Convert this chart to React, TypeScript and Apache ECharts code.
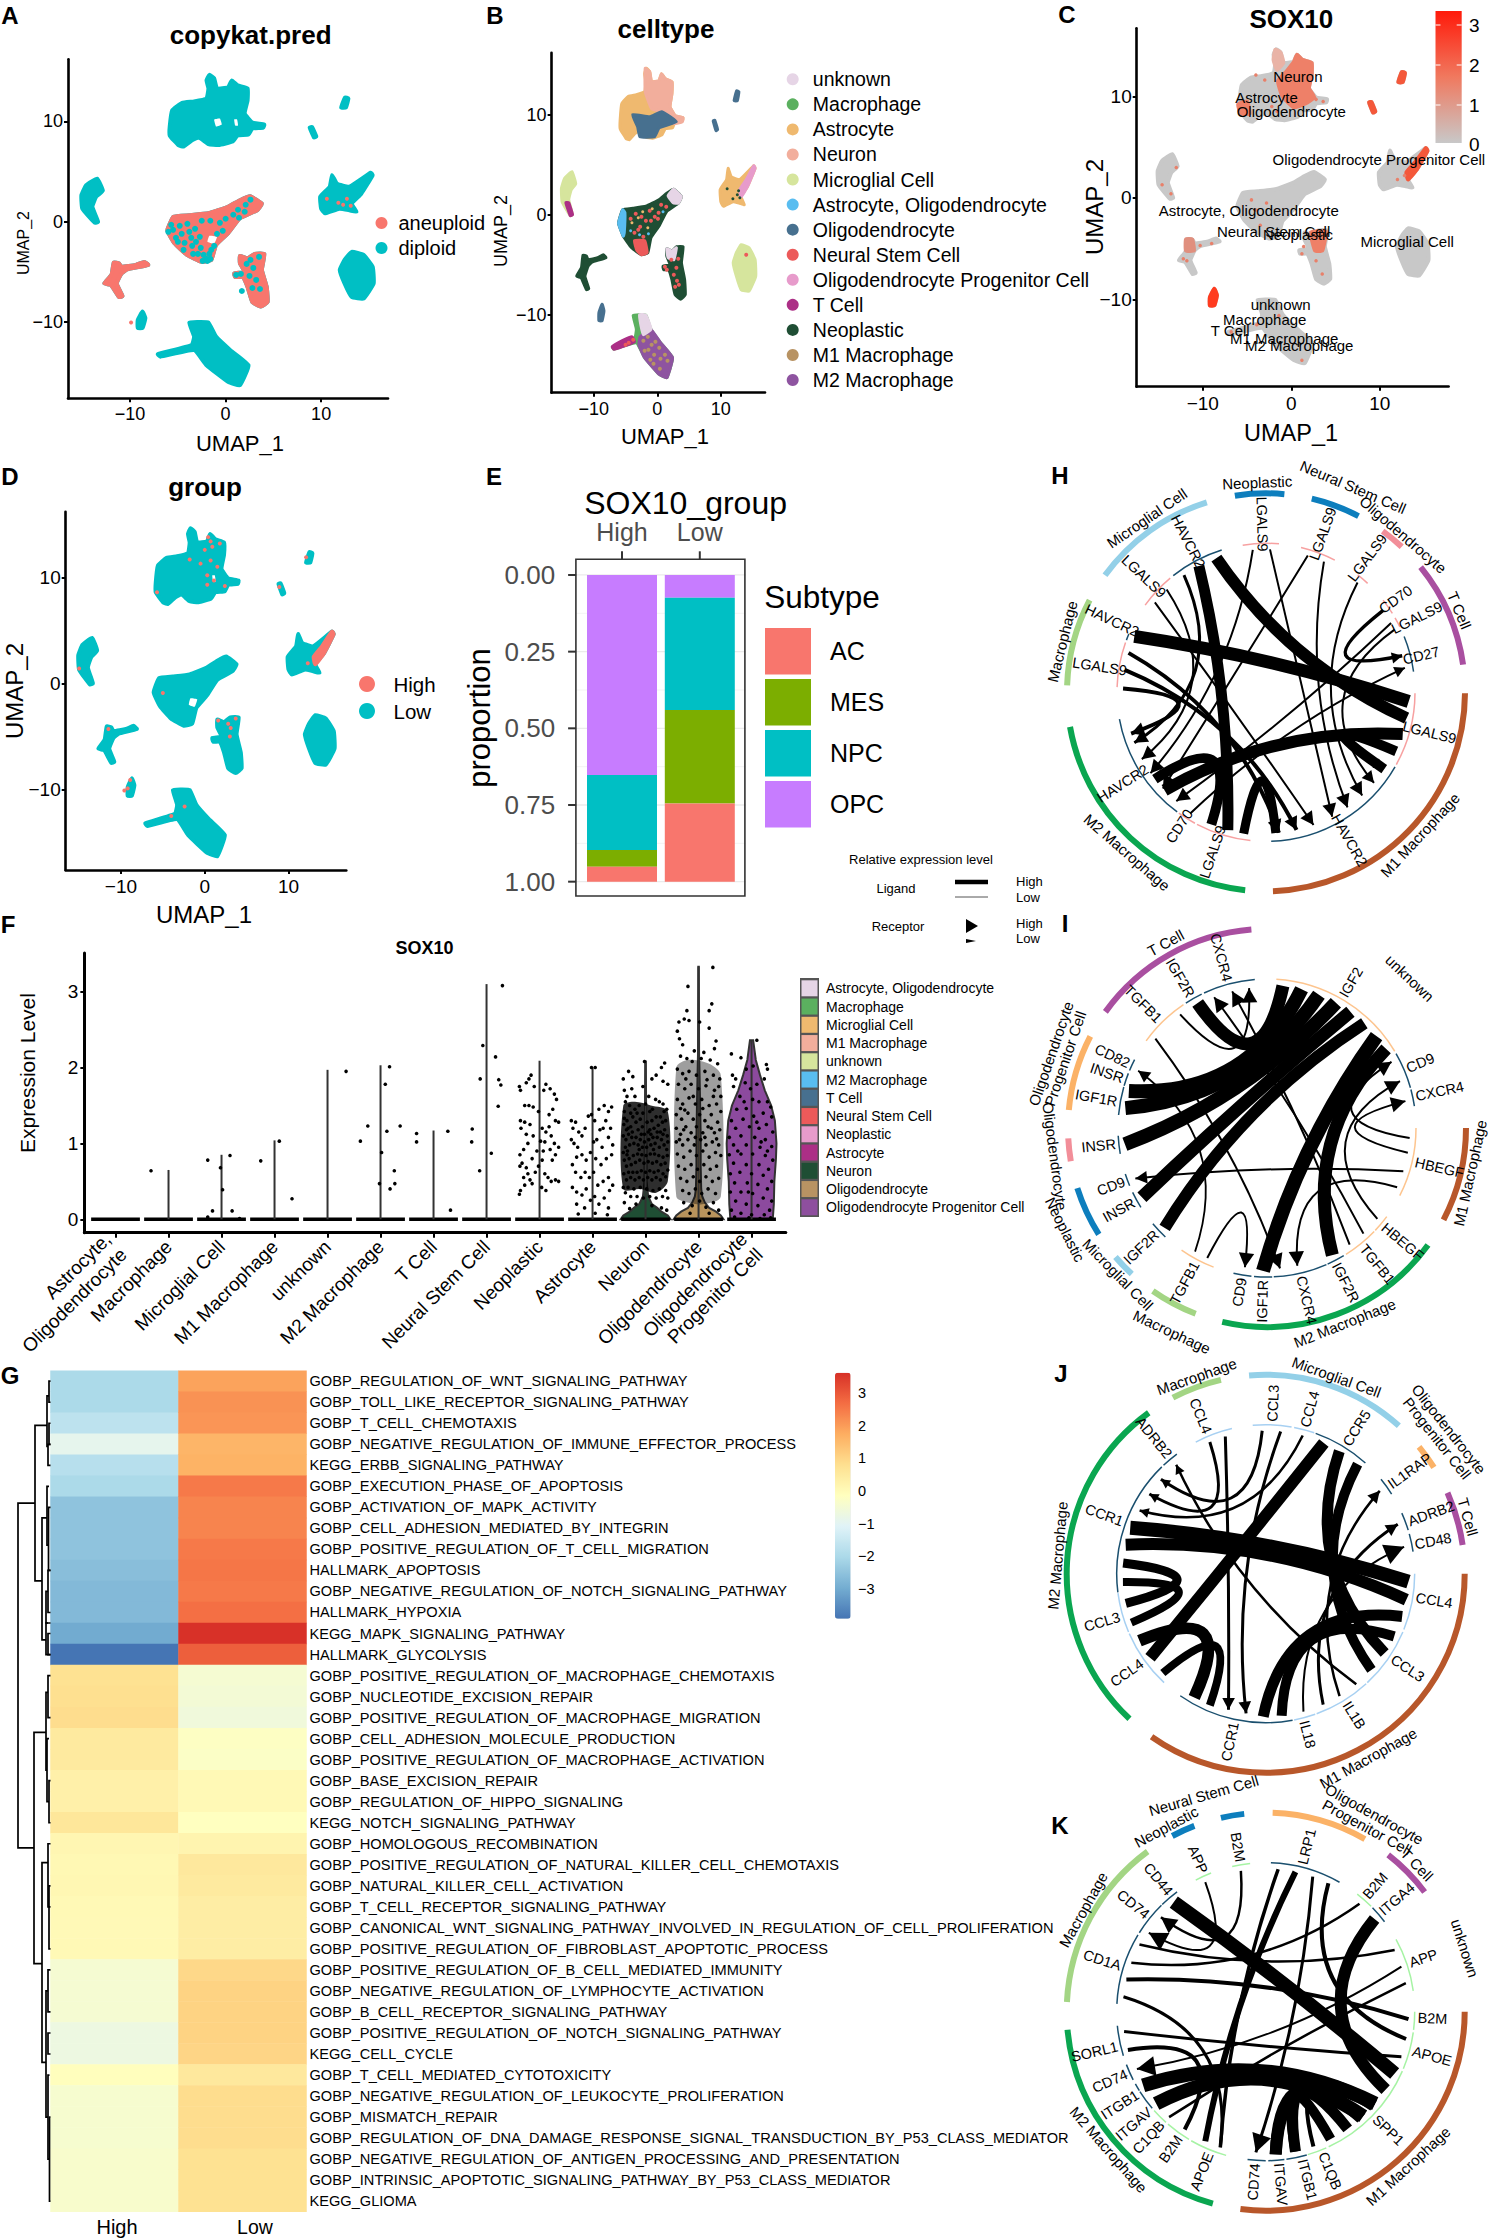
import React, { useEffect, useRef } from "react";
import * as echarts from "echarts";

const FONT = "Liberation Sans";

// ---------- UMAP cluster outlines (UMAP_1, UMAP_2) ----------
const topCluster = [[-1.7,14.65],[-1.2,14.3],[-0.9,13.3],[0.25,13.4],[0.65,14.1],[1.25,13.6],[2.3,13.3],[2.3,12.1],[2,10.8],[2.8,9.9],[4.05,9.7],[3.95,9.4],[2.8,9.3],[2.4,8.7],[1.25,8.6],[0.75,8],[-0.75,7.65],[-1.8,7.75],[-2.8,8.4],[-3.55,8.1],[-4.4,7.5],[-4.9,7.6],[-5.85,8.6],[-5.85,9.5],[-5.6,11.1],[-4.55,11.85],[-3.3,12],[-2,12.3],[-1.8,13.3],[-2,14.1]];
const leftCluster = [[-13.45,4.3],[-12.85,3.1],[-13.55,2.5],[-13.95,1.5],[-13.35,0],[-13.7,-0.1],[-15,1.3],[-15.1,2.65],[-14.6,3.65]];
const centerCluster = [[2.55,2.55],[3.8,1.8],[3.3,1.15],[1.5,0.35],[0.25,-1.15],[-1,-2.3],[-1.5,-3.8],[-2.5,-4],[-4.05,-3.3],[-5.35,-2.15],[-6.1,-0.85],[-5.45,0.5],[-3.8,0.65],[-1.8,0.85],[0.25,1.5],[1.5,2.15]];
const lowerLeftCluster = [[-8.5,-4],[-8.1,-4.3],[-10.3,-4.75],[-10.9,-5.15],[-11.4,-6.15],[-10.8,-7.4],[-11.15,-7.5],[-12,-6.3],[-12.7,-6.15],[-11.95,-5.3],[-11.7,-4.05],[-11.15,-4.15],[-10.9,-4.5],[-9.4,-4.3]];
const centerLowerCluster = [[1.5,-3.4],[2.3,-3.65],[3.05,-3.2],[4.05,-3.2],[3.8,-4.8],[4.3,-6.5],[4.4,-8],[3.7,-8.45],[2.8,-8],[2.3,-6.5],[1.8,-5.5],[1,-5.5],[0.9,-5.15],[2,-5],[1.5,-4.15]];
const rightOval = [[13.2,-3],[14.45,-3.3],[15.4,-4.5],[15.5,-6.15],[14.45,-7.65],[13.2,-7.5],[12.45,-6.15],[11.95,-4.8],[12.45,-3.8]];
const upperRightCluster = [[11.15,4.65],[11.65,3.8],[12.95,3.5],[15.2,4.9],[15.4,4.65],[14.2,2.8],[13.2,1.8],[13.7,1],[12.95,1.15],[11.9,1.3],[10.4,0.85],[10,1.3],[9.9,2.5],[10.9,3.5]];
const smallBottomCluster = [[-8.7,-8.95],[-8.4,-9.6],[-8.7,-10.6],[-9.2,-10.6],[-9.2,-9.8]];
const bottomCluster = [[-3.8,-10.05],[-2.8,-10],[-1.8,-10.05],[-1,-11.45],[0.5,-12.8],[2.4,-14.3],[1.5,-16.3],[0.25,-15.95],[-2,-14.3],[-3.3,-12.8],[-6.85,-13.45],[-7.1,-13.2],[-3.55,-12.3],[-3.3,-11.45]];
const smallTopA = [[12.1,11.4],[12.5,12.4],[12.85,12.3],[12.6,11.4]];
const smallTopB = [[8.8,9.4],[9.05,9.45],[9.5,8.5],[9.25,8.4]];
const allClusters = [topCluster,leftCluster,centerCluster,lowerLeftCluster,centerLowerCluster,rightOval,upperRightCluster,smallBottomCluster,bottomCluster,smallTopA,smallTopB];
const holeA = [[-1.7,-1.4],[-0.9,-1.5],[-1.2,-2.2],[-1.9,-2]];
const holeB = [[-1.2,10.2],[-0.6,10.3],[-0.4,9.7],[-1,9.5]];
const holeC = [[0.9,10.2],[1.2,10.2],[1.3,9.6],[1,9.6]];

// panel B patches
const neuronPatch = [[-1.9,14.65],[-1.2,14.3],[-0.9,13.3],[0.25,13.4],[0.65,14.1],[1.25,13.6],[2.3,13.3],[2.3,12.1],[2,10.8],[2.8,9.9],[4.05,9.7],[3.95,9.3],[2.6,9.1],[1.5,9.6],[0.7,10.3],[-0.9,10.6],[-1.9,12.3]];
const oligoPatch = [[-3.9,10],[-1.2,9.8],[0.7,10.3],[3,9.3],[0.3,8.7],[-0.45,7.8],[-2.75,7.8],[-3.1,8.8]];
const astroOligoPatch = [[-6.1,-0.85],[-5.45,0.5],[-5.1,0.2],[-5.2,-1.8],[-5.35,-2.15]];
const nscTip = [[-3.6,-2.6],[-2,-2.6],[-1.6,-3.8],[-2.5,-4],[-3.2,-3.6]];
const unknownTip = [[2.55,2.55],[3.8,1.8],[3.3,1.15],[2.5,1.2],[1.7,1.9]];
const unknownCL = [[1.5,-3.4],[2.3,-3.65],[3,-3.3],[2.6,-4.5],[1.7,-4.3]];
const opcTail = [[15.2,4.9],[15.4,4.65],[14.2,2.8],[13.2,1.8],[13,2.5],[14,3.5]];
const tCellLeft = [[-13.95,1.2],[-13.35,0],[-13.7,-0.1],[-14.4,1.2]];
const m2Patch = [[-2.7,-12.2],[-1,-11.5],[0.5,-12.8],[2.4,-14.3],[1.5,-16.3],[0.25,-15.95],[-2,-14.3],[-2.9,-13]];
const unknownBottom = [[-2.8,-10],[-1.8,-10.05],[-1,-11.45],[-2.2,-12],[-2.6,-11]];
const tCellTail = [[-6.85,-13.45],[-7.1,-13.2],[-5.5,-12.6],[-4,-12.2],[-3.6,-12.7],[-5.5,-13.2]];

// panel C patches
const cNeuron = [[0.3,13.4],[0.65,14.1],[1.25,13.6],[2.3,13.3],[2.3,12.1],[2,10.8],[2.6,9.9],[1.6,9.3],[0.3,8.9],[-1,10],[-1.5,11.5],[-0.5,12.5]];
const cPale = [[-1.8,14.6],[-1.2,14.3],[-0.9,13.3],[-1.6,12.6],[-2,13.6]];
const cLeftSpot = [[-6,9.2],[-5,9.5],[-4.7,8.3],[-5.7,8.3]];
const cCenterLower = [[2.2,-3.4],[3.9,-3.3],[3.5,-5.2],[2.7,-5.2]];
const cLowerLeft = [[-11.9,-4.1],[-11.2,-4.1],[-11,-5.2],[-11.9,-5.2]];
const dTail = [[15.2,4.9],[15.4,4.65],[14.2,2.8],[13.2,1.8],[13,2.5],[14,3.5]];

const CYAN = "#00BFC4", SALMON = "#F8766D", GREY = "#C8C8C8", CSALMON = "#EE8068";
const cellColors: Record<string,string> = { unknown:"#E6D5E6", Macrophage:"#5BB05F", Astrocyte:"#EFB96F", Neuron:"#F2AE9C", Microglial:"#D6E59D", AstroOligo:"#59BDF0", Oligo:"#47708F", NSC:"#EC5A5A", OPC:"#E79BCB", TCell:"#AC2F86", Neoplastic:"#1F4E34", M1:"#B89363", M2:"#8E54A0" };

const aPatches: any[] = [...allClusters.map(c => [c, CYAN]), [centerCluster, SALMON], [lowerLeftCluster, SALMON], [centerLowerCluster, SALMON], [holeA, "#fff"], [holeB, "#fff"], [holeC, "#fff"]];
const bPatches: any[] = [
  [topCluster, cellColors.Astrocyte],[neuronPatch, cellColors.Neuron],[oligoPatch, cellColors.Oligo],[smallTopA, cellColors.Oligo],[smallTopB, cellColors.Oligo],
  [leftCluster, cellColors.Microglial],[tCellLeft, cellColors.TCell],[centerCluster, cellColors.Neoplastic],[astroOligoPatch, cellColors.AstroOligo],[nscTip, cellColors.NSC],[unknownTip, cellColors.unknown],
  [lowerLeftCluster, cellColors.Neoplastic],[centerLowerCluster, cellColors.Neoplastic],[unknownCL, cellColors.unknown],[rightOval, cellColors.Microglial],[upperRightCluster, cellColors.Astrocyte],[opcTail, cellColors.OPC],[smallBottomCluster, cellColors.Oligo],
  [bottomCluster, cellColors.Macrophage],[m2Patch, cellColors.M2],[unknownBottom, cellColors.unknown],[tCellTail, cellColors.TCell],
];
const cPatches: any[] = [...allClusters.map(c => [c, GREY]), [cNeuron, CSALMON],[cPale, "#E9B3A6"],[cLeftSpot, CSALMON],[cCenterLower, CSALMON],[cLowerLeft, "#E08F7E"],[dTail, "#F4583A"],[smallTopA, "#F4583A"],[smallTopB, "#F4583A"],[smallBottomCluster, "#FF3B1F"]];
const dPatches: any[] = [...allClusters.map(c => [c, CYAN]), [dTail, SALMON],[holeA, "#fff"],[holeC, "#fff"]];

// specks
const aCyanSpecks = [[-5.5,-0.8],[-5.2,-1.6],[-4.8,-0.4],[-4.6,-1.2],[-4.3,-2.1],[-4,-0.2],[-3.8,-1],[-3.6,-1.6],[-3.5,-2.4],[-3.2,-0.7],[-3.1,-2],[-2.9,-3.2],[-2.7,-1.5],[-2.6,-2.6],[-2.3,-3.3],[-2,-3.7],[-1.7,-3.2],[-1.5,-2.8],[-1.2,-2.4],[-1.9,-3.9],[-2.5,0.1],[-1.6,0.1],[-0.6,-0.1],[0,0.3],[0.8,0.7],[1.3,1.2],[2.1,1.7],[2.6,2.2],[2,1],[1.4,0.4],[-0.3,-0.9],[-0.9,-1.2],[2.2,-4.2],[2.9,-4.6],[2.5,-5.4],[3.2,-5.8],[2.8,-6.6],[3.6,-6.7],[1.6,-5.2],[3.5,-3.5],[2.6,-3.8],[1.7,-6.9],[1.1,-5.3],[-6,-1],[-5.7,-0.3],[-5,-2],[-4.4,-2.8],[-3.4,-3.2],[-2.4,-3.9],[-1.6,-3.7]];
const aSalmonSpecks = [[10.6,2.3],[11.8,1.9],[12.7,2.3],[12.3,1.7],[13.1,1.6],[-9.9,-10.05]];
const bRedSpecks = [[-4.2,-0.4],[-3.4,0.1],[-2.7,-1.2],[-1.8,-0.6],[-1.2,0.4],[-0.4,-0.2],[0.6,1],[1.4,0.8],[-3.6,-1.8],[-2.2,-2.2],[0.2,0.2],[2.2,-4.5],[2.6,-6],[3,-5.3],[3.4,-7],[2.8,-7.2],[1.2,-5.2],[1.5,-5.5],[14,-4],[-5,-13],[-4.5,-12.8],[-3.8,-12.5],[-3,-1.5],[-1,-0.6],[0.1,-0.4],[-2.5,-0.2],[3.3,-4.4],[3.1,-6.6]];
const bGoldSpecks = [[-4,-0.8],[-3,-0.3],[-1.5,-1.3],[-0.8,0.6],[-2.3,0.3]];
const bBlueSpecks = [[-2.8,-2],[-1.4,-1.9],[0.9,0.3],[-4.2,-1.6]];
const bDarkSpecks = [[11,2.6],[12.6,2],[13,1.7],[11.9,1.6],[12.8,2.4]];
const bTanSpecks = [[-2.2,-12.6],[-1.5,-12.2],[-0.9,-13],[-0.3,-12.7],[0.3,-13.3],[-1.4,-13.5],[-0.5,-14],[0.5,-14.4],[1.2,-14],[1.6,-14.6],[-0.6,-14.9],[0.4,-15.4],[-2,-13.6],[-1.1,-14.5]];
const dSalmonSpecks = [[0.4,13.8],[0.7,13.4],[1.8,13.2],[0,12.6],[-1.8,11.7],[-0.5,11.3],[0.7,11.6],[0.3,10.2],[1.1,9.7],[0.3,9.3],[2.4,9.2],[-5.7,8.6],[12.1,11.9],[8.9,9.1],[13.7,2.5],[12.3,1.9],[-15,1.4],[-5,-0.9],[-11.5,-4.3],[1.6,-3.5],[2.8,-3.8],[3.7,-3.3],[3.1,-4.2],[3,-5],[-9.2,-9.9],[-9.6,-10.1],[-8.9,-9.1],[-2.4,-11.6],[-4,-12.5],[0.9,12.9],[1.5,11]];
const cSalmonSpecks = [[-4,12.1],[-3,11.6],[-2.2,9],[-1.6,8.5],[2.8,9.7],[3.6,9.5],[-13,3],[-14.6,1.3],[-13.6,0.4],[-4.5,-0.2],[-4,-1.2],[-3.5,-2.7],[-2.8,-0.5],[1.4,-4.8],[1.2,-5.5],[2.8,-6.2],[3.5,-7.5],[-11.8,-6.2],[-12.2,-6],[-10.3,-4.7],[-9,-4.5],[12,1.8],[12.8,2.2],[-3.9,-12.5],[-6.8,-13.2],[1.2,-16],[-1.4,-11.6]];

const cLabels = [["Neuron",0.75,12],["Astrocyte",-2.8,9.9],["Oligodendrocyte",0,8.55],["Oligodendrocyte Progenitor Cell",9.9,3.8],["Astrocyte, Oligodendrocyte",-4.8,-1.2],["Neural Stem Cell",-2,-3.3],["Neoplastic",0.75,-3.6],["Microglial Cell",13.1,-4.3],["unknown",-1.2,-10.5],["Macrophage",-3,-11.95],["T Cell",-6.9,-13.05],["M1 Macrophage",-0.8,-13.9],["M2 Macrophage",0.9,-14.5]];
const bLegendNames = ["unknown","Macrophage","Astrocyte","Neuron","Microglial Cell","Astrocyte, Oligodendrocyte","Oligodendrocyte","Neural Stem Cell","Oligodendrocyte Progenitor Cell","T Cell","Neoplastic","M1 Macrophage","M2 Macrophage"];
const bLegendColors = [cellColors.unknown,cellColors.Macrophage,cellColors.Astrocyte,cellColors.Neuron,cellColors.Microglial,cellColors.AstroOligo,cellColors.Oligo,cellColors.NSC,cellColors.OPC,cellColors.TCell,cellColors.Neoplastic,cellColors.M1,cellColors.M2];

// ---------- Panel E ----------
const eGroups = ["High","Low"];
const eOPC = [0.652,0.074];
const eNPC = [0.245,0.366];
const eMES = [0.054,0.305];
const eAC = [0.049,0.255];
const eTicks = [0,0.25,0.5,0.75,1];
const eMinor = [0.125,0.375,0.625,0.875];

// ---------- Panel F ----------
const fCategories = ["Astrocyte,\nOligodendrocyte","Macrophage","Microglial Cell","M1 Macrophage","unknown","M2 Macrophage","T Cell","Neural Stem Cell","Neoplastic","Astrocyte","Neuron","Oligodendrocyte","Oligodendrocyte\nProgenitor Cell"];
const fMax = [0,0.65,0.85,1.04,1.97,2.03,1.17,3.1,2.09,2.0,2.08,3.33,2.36];
const fLegendNames = ["Astrocyte, Oligodendrocyte","Macrophage","Microglial Cell","M1 Macrophage","unknown","M2 Macrophage","T Cell","Neural Stem Cell","Neoplastic","Astrocyte","Neuron","Oligodendrocyte","Oligodendrocyte Progenitor Cell"];
const fLegendColors = ["#E6D5E6","#5BB05F","#EFB96F","#F2AE9C","#D6E59D","#59BDF0","#47708F","#EC5A5A","#E79BCB","#AC2F86","#1F4E34","#B89363","#8E4F9E"];
const neuronViolin = [[0,0.47],[0.05,0.42],[0.1,0.3],[0.15,0.22],[0.2,0.12],[0.3,0.05],[0.5,0.02],[2.08,0.005]];
const oligoViolin = [[0,0.47],[0.05,0.42],[0.1,0.33],[0.15,0.2],[0.22,0.12],[0.3,0.07],[0.4,0.05],[0.7,0.04],[1.1,0.04],[1.5,0.03],[2.2,0.01],[3.33,0.005]];
const opcViolin = [[0,0.4],[0.2,0.42],[0.5,0.43],[0.8,0.46],[1,0.47],[1.3,0.44],[1.5,0.37],[1.7,0.25],[1.9,0.16],[2.1,0.08],[2.36,0.03]];
const neuronDensity = [[-0.42,0.4],[-0.42,1.5],[-0.2,1.55],[0.1,1.5],[0.42,1.42],[0.42,0.5],[0.2,0.35],[-0.1,0.4]];
const oligoDensity = [[-0.42,0.3],[-0.42,2.0],[-0.2,2.1],[0.2,2.05],[0.42,1.9],[0.42,0.3],[0.1,0.2],[-0.2,0.22]];
const smallPoints = [[2,-0.33,0.64],[3,-0.26,0.78],[3,-0.02,0.68],[3,0.16,0.84],[3,0.02,0.39],[3,-0.17,0.11],[3,0.2,0.11],[3,-0.26,0.03],[3,0.34,0.01],[4,-0.26,0.77],[4,0.09,1.03],[4,0.33,0.27],[5,0.35,1.95],[6,0.17,2.01],[6,0.09,1.78],[6,-0.24,1.23],[6,0.37,1.23],[6,0.12,1.16],[6,-0.38,1.03],[6,0.02,0.88],[6,0.26,0.64],[6,0.27,0.47],[6,-0.02,0.47],[6,0.18,0.4],[7,-0.32,1.13],[7,-0.32,1.02],[7,0.27,1.16],[7,0.32,0.12],[8,0.3,3.08],[8,-0.07,2.29],[8,0.17,2.14],[8,-0.12,1.85],[8,0.23,1.84],[8,0.27,1.77],[8,0.22,1.49],[8,-0.27,1.19],[8,-0.28,1.02],[8,0.09,0.87],[8,-0.13,0.64]];
const neoplasticPts = [[-0.38,0.33],[-0.36,0.38],[-0.28,0.45],[-0.3,0.55],[-0.37,0.7],[-0.33,0.74],[-0.25,0.68],[-0.22,0.6],[-0.18,0.52],[-0.14,0.47],[-0.08,0.62],[-0.02,0.7],[0.05,0.78],[0.1,0.6],[0.16,0.55],[0.22,0.5],[0.3,0.52],[0.36,0.5],[0.12,0.38],[0.04,0.42],[-0.37,0.85],[-0.3,0.92],[-0.22,1],[-0.12,1.1],[-0.35,1.2],[-0.36,1.3],[-0.28,1.28],[-0.18,1.25],[-0.12,1.48],[-0.2,1.5],[-0.28,1.5],[-0.36,1.7],[-0.38,1.75],[-0.25,1.8],[-0.16,1.9],[-0.2,1.85],[-0.1,1.75],[-0.02,1.42],[0.05,1.2],[0.02,1.03],[0.1,1.02],[0.12,1.15],[0.18,1.22],[0.22,1.1],[0.28,1],[0.36,0.95],[0.3,0.85],[0.24,0.78],[0.2,0.92],[0.08,1.7],[0.12,1.78],[0.2,1.72],[0.28,1.65],[0.32,1.58],[0.25,1.45],[0.3,1.3],[0.36,1.28],[0.18,1.38],[-0.05,0.9],[-0.14,0.8],[-0.25,1.12],[0.07,0.9]];
const astrocytePts = [[-0.4,1.3],[-0.37,1.2],[-0.32,1.28],[-0.26,1.15],[-0.4,1.05],[-0.35,1],[-0.28,0.95],[-0.2,1.1],[-0.14,1.2],[-0.08,1.36],[-0.02,1.38],[0.04,1.3],[0.12,1.45],[0.22,1.5],[0.3,1.42],[0.36,1.48],[0.25,1.3],[0.14,1.18],[0.08,1.05],[0.02,1.02],[0.18,0.95],[0.3,1.08],[0.38,0.98],[0.36,0.85],[0.26,0.8],[0.16,0.72],[0.06,0.8],[-0.04,0.88],[-0.12,0.78],[-0.2,0.85],[-0.3,0.82],[-0.38,0.72],[-0.32,0.62],[-0.22,0.55],[-0.14,0.62],[-0.06,0.55],[0.02,0.62],[0.1,0.45],[0.2,0.5],[0.3,0.55],[0.38,0.45],[0.32,0.38],[0.22,0.28],[0.12,0.2],[0.04,0.3],[-0.04,0.25],[-0.12,0.4],[-0.2,0.32],[-0.3,0.36],[-0.38,0.42],[-0.3,0.2],[-0.15,0.15],[-0.27,0.07],[0.05,0.08],[0.28,0.06],[0.3,0.15],[-0.02,2],[0.05,2],[0.2,1.2],[0.34,1.2]];
const neuronPts = [[-0.42,1.85],[-0.38,1.55],[-0.4,1.42],[-0.35,1.3],[-0.41,1.25],[-0.36,1.18],[-0.42,1.1],[-0.37,1.05],[-0.32,1.12],[-0.28,1.22],[-0.24,1.35],[-0.2,1.45],[-0.18,1.28],[-0.14,1.18],[-0.1,1.32],[-0.06,1.22],[-0.02,1.12],[0.03,1.28],[0.08,1.18],[0.12,1.3],[0.16,1.2],[0.2,1.35],[0.24,1.24],[0.28,1.15],[0.32,1.28],[0.36,1.18],[0.41,1.1],[0.38,1.3],[0.42,1.02],[0.35,0.98],[0.3,1.05],[0.26,0.95],[0.22,1.08],[0.18,1],[0.14,1.08],[0.1,0.98],[0.06,1.05],[0.02,0.95],[-0.02,1.02],[-0.06,0.95],[-0.1,1.05],[-0.14,0.98],[-0.18,1.08],[-0.22,1],[-0.26,1.08],[-0.3,0.98],[-0.34,0.9],[-0.38,0.95],[-0.42,0.88],[-0.4,0.78],[-0.36,0.7],[-0.31,0.8],[-0.27,0.72],[-0.23,0.84],[-0.19,0.75],[-0.15,0.86],[-0.11,0.78],[-0.07,0.85],[-0.03,0.74],[0.01,0.84],[0.05,0.76],[0.09,0.86],[0.13,0.74],[0.17,0.86],[0.21,0.76],[0.25,0.84],[0.29,0.72],[0.33,0.82],[0.37,0.74],[0.41,0.84],[0.42,0.65],[0.38,0.56],[0.33,0.6],[0.28,0.52],[0.24,0.64],[0.2,0.55],[0.16,0.62],[0.12,0.52],[0.08,0.64],[0.04,0.55],[0,0.62],[-0.04,0.52],[-0.08,0.64],[-0.12,0.55],[-0.16,0.62],[-0.2,0.52],[-0.24,0.62],[-0.28,0.55],[-0.32,0.62],[-0.36,0.52],[-0.41,0.6],[-0.42,0.42],[-0.38,0.35],[-0.33,0.42],[-0.28,0.3],[-0.22,0.4],[-0.16,0.3],[-0.1,0.42],[-0.04,0.28],[0.02,0.4],[0.08,0.3],[0.14,0.38],[0.2,0.28],[0.26,0.4],[0.32,0.3],[0.38,0.38],[0.42,0.28],[-0.4,0.22],[-0.3,0.14],[-0.18,0.2],[0.12,0.18],[0.3,0.15],[0.4,0.12],[-0.35,1.62],[-0.3,1.5],[-0.26,1.72],[-0.2,1.62],[-0.12,1.5],[-0.05,1.75],[0,1.52],[0.06,1.62],[0.13,1.45],[0.19,1.58],[0.26,1.55],[0.33,1.52],[0.4,1.45],[0.12,1.85],[0.2,1.9],[0.3,2],[0.36,2.06],[0.33,1.82],[-0.02,2.08],[-0.4,1.7],[-0.32,1.95],[-0.24,1.88],[0.42,1.78],[-0.35,0.85],[0.05,1.15],[-0.12,0.92],[0.15,0.92],[0.28,1.35],[-0.28,1.4],[-0.05,1.4],[0.08,1.42],[0.4,0.92],[-0.4,1.33],[0.35,1.42],[-0.16,1.4],[-0.25,1.15],[0.22,1.15],[0.1,1.12],[-0.08,1.12],[-0.33,1.2],[0.33,1.12]];
const oligoPts = [[-0.2,3.07],[0.27,3.32],[0.25,2.84],[0.2,2.75],[-0.22,2.75],[-0.37,2.6],[-0.27,2.64],[-0.18,2.62],[0.02,2.6],[0.2,2.52],[-0.4,2.48],[-0.36,2.38],[-0.3,2.3],[0.33,2.35],[0.3,2.25],[0.1,2.2],[-0.08,2.22],[-0.34,2.15],[-0.22,2.12],[-0.12,2.08],[0.05,2.12],[0.22,2.1],[0.36,2.05],[-0.4,1.98],[-0.3,1.92],[-0.18,1.95],[-0.04,1.9],[0.12,1.95],[0.28,1.9],[0.4,1.85],[-0.38,1.78],[-0.26,1.72],[-0.14,1.78],[0,1.72],[0.14,1.76],[0.3,1.7],[0.42,1.62],[-0.4,1.58],[-0.3,1.52],[-0.18,1.6],[-0.06,1.52],[0.06,1.58],[0.2,1.5],[0.34,1.52],[0.42,1.42],[-0.42,1.38],[-0.32,1.32],[-0.2,1.4],[-0.1,1.32],[0.02,1.38],[0.12,1.3],[0.24,1.38],[0.36,1.28],[-0.42,1.2],[-0.34,1.12],[-0.24,1.22],[-0.14,1.14],[-0.04,1.22],[0.08,1.14],[0.18,1.22],[0.3,1.14],[0.4,1.18],[-0.42,1.02],[-0.3,0.98],[-0.2,1.05],[-0.08,0.98],[0.04,1.05],[0.14,0.98],[0.26,1.02],[0.38,0.98],[-0.4,0.86],[-0.28,0.82],[-0.16,0.9],[-0.04,0.84],[0.08,0.9],[0.2,0.82],[0.32,0.88],[0.42,0.84],[-0.38,0.7],[-0.26,0.66],[-0.14,0.72],[-0.02,0.66],[0.1,0.72],[0.22,0.66],[0.34,0.7],[-0.34,0.54],[-0.22,0.5],[-0.1,0.56],[0.02,0.5],[0.14,0.56],[0.26,0.5],[0.38,0.54],[-0.3,0.38],[-0.18,0.34],[-0.06,0.4],[0.06,0.34],[0.18,0.4],[0.32,0.34],[-0.28,0.22],[-0.12,0.18],[0.02,0.24],[0.14,0.16],[0.28,0.22],[-0.16,0.08],[0.2,0.08],[0.38,0.12],[-0.34,1.46],[0.28,1.62],[-0.24,1.85],[0.16,1.84],[0.38,1.75],[-0.1,1.62],[0.08,1.46],[-0.26,1.44],[-0.36,1.05],[0.24,1.2],[-0.06,1.08],[0.12,1.08],[-0.28,1.18],[0.34,1.06]];
const opcPts = [[-0.38,2.18],[-0.2,2.13],[0.1,2.36],[0.28,2.04],[0.3,1.98],[-0.36,1.9],[-0.3,1.85],[-0.1,1.98],[0.03,2.02],[0.24,1.85],[-0.34,1.75],[-0.12,1.8],[-0.02,1.72],[0.1,1.78],[0.3,1.55],[0.36,1.48],[-0.22,1.62],[0.02,1.58],[0.14,1.55],[-0.28,1.45],[-0.1,1.46],[0.22,1.4],[0.38,1.35],[-0.38,1.3],[-0.16,1.32],[0.04,1.36],[0.28,1.25],[-0.3,1.2],[-0.04,1.22],[0.14,1.2],[0.4,1.15],[-0.42,1.08],[-0.2,1.1],[0.06,1.08],[0.26,1.05],[-0.34,0.98],[-0.1,0.98],[0.16,0.95],[0.38,0.96],[-0.42,0.85],[-0.2,0.86],[0.02,0.86],[0.26,0.84],[0.4,0.78],[-0.34,0.74],[-0.1,0.72],[0.14,0.72],[0.32,0.66],[-0.4,0.6],[-0.22,0.62],[0,0.6],[0.22,0.58],[0.38,0.5],[-0.32,0.48],[-0.08,0.48],[0.12,0.46],[0.3,0.4],[-0.4,0.36],[-0.2,0.36],[0.02,0.34],[0.22,0.28],[0.38,0.24],[-0.3,0.24],[-0.1,0.2],[0.12,0.18],[0.34,0.12],[-0.38,0.12],[-0.2,0.08],[0,0.06],[0.24,0.06],[-0.32,0.03],[-0.05,0.02],[0.16,0.01],[0.36,0.02],[-0.14,1.55],[0.1,1.28],[-0.06,0.36],[0.18,1.02],[-0.26,0.9],[0.3,0.9]];

// ---------- Panel G ----------
const gColumns = ["High","Low"];
const gPathways = ["GOBP_REGULATION_OF_WNT_SIGNALING_PATHWAY","GOBP_TOLL_LIKE_RECEPTOR_SIGNALING_PATHWAY","GOBP_T_CELL_CHEMOTAXIS","GOBP_NEGATIVE_REGULATION_OF_IMMUNE_EFFECTOR_PROCESS","KEGG_ERBB_SIGNALING_PATHWAY","GOBP_EXECUTION_PHASE_OF_APOPTOSIS","GOBP_ACTIVATION_OF_MAPK_ACTIVITY","GOBP_CELL_ADHESION_MEDIATED_BY_INTEGRIN","GOBP_POSITIVE_REGULATION_OF_T_CELL_MIGRATION","HALLMARK_APOPTOSIS","GOBP_NEGATIVE_REGULATION_OF_NOTCH_SIGNALING_PATHWAY","HALLMARK_HYPOXIA","KEGG_MAPK_SIGNALING_PATHWAY","HALLMARK_GLYCOLYSIS","GOBP_POSITIVE_REGULATION_OF_MACROPHAGE_CHEMOTAXIS","GOBP_NUCLEOTIDE_EXCISION_REPAIR","GOBP_POSITIVE_REGULATION_OF_MACROPHAGE_MIGRATION","GOBP_CELL_ADHESION_MOLECULE_PRODUCTION","GOBP_POSITIVE_REGULATION_OF_MACROPHAGE_ACTIVATION","GOBP_BASE_EXCISION_REPAIR","GOBP_REGULATION_OF_HIPPO_SIGNALING","KEGG_NOTCH_SIGNALING_PATHWAY","GOBP_HOMOLOGOUS_RECOMBINATION","GOBP_POSITIVE_REGULATION_OF_NATURAL_KILLER_CELL_CHEMOTAXIS","GOBP_NATURAL_KILLER_CELL_ACTIVATION","GOBP_T_CELL_RECEPTOR_SIGNALING_PATHWAY","GOBP_CANONICAL_WNT_SIGNALING_PATHWAY_INVOLVED_IN_REGULATION_OF_CELL_PROLIFERATION","GOBP_POSITIVE_REGULATION_OF_FIBROBLAST_APOPTOTIC_PROCESS","GOBP_POSITIVE_REGULATION_OF_B_CELL_MEDIATED_IMMUNITY","GOBP_NEGATIVE_REGULATION_OF_LYMPHOCYTE_ACTIVATION","GOBP_B_CELL_RECEPTOR_SIGNALING_PATHWAY","GOBP_POSITIVE_REGULATION_OF_NOTCH_SIGNALING_PATHWAY","KEGG_CELL_CYCLE","GOBP_T_CELL_MEDIATED_CYTOTOXICITY","GOBP_NEGATIVE_REGULATION_OF_LEUKOCYTE_PROLIFERATION","GOBP_MISMATCH_REPAIR","GOBP_REGULATION_OF_DNA_DAMAGE_RESPONSE_SIGNAL_TRANSDUCTION_BY_P53_CLASS_MEDIATOR","GOBP_NEGATIVE_REGULATION_OF_ANTIGEN_PROCESSING_AND_PRESENTATION","GOBP_INTRINSIC_APOPTOTIC_SIGNALING_PATHWAY_BY_P53_CLASS_MEDIATOR","KEGG_GLIOMA"];
const gHigh = [-2.0,-2.0,-1.7,-0.9,-1.8,-2.0,-2.5,-2.5,-2.5,-2.6,-2.7,-2.7,-3.0,-3.9,0.75,0.8,0.85,0.5,0.5,0.3,0.3,0.6,0.12,0.08,0.1,0.05,0.03,0.05,-0.45,-0.45,-0.45,-0.7,-0.7,-0.1,-0.4,-0.4,-0.4,-0.35,-0.35,-0.35];
const gLow = [1.9,2.15,2.1,1.6,1.65,2.5,2.35,2.35,2.5,2.55,2.5,2.65,3.6,2.9,-0.45,-0.5,-0.6,-0.2,-0.25,0.05,0.05,-0.15,0.18,0.55,0.5,0.4,0.4,0.4,0.95,1.05,1.05,1.05,1.0,0.55,0.85,0.85,0.85,0.75,0.75,0.75];
const gScaleTicks = [3,2,1,0,-1,-2,-3];
const gDendro = [[18,6.3,22.7,35,34],[35,2.6,10,47,42],[47,1.2,3.6,49,48],[49,0.5,1.5,50.5,50.5],[49,2.5,3.5,50.5,50.5],[48,3.5,4.5,50.5,50.5],[42,7,12.8,47,46],[47,5.5,8.3,49,48.5],[48.5,6.5,9.5,50.5,50.5],[46,10.5,12,48,48],[48,9.5,11.5,50.5,50.5],[46,12,13.5,50.5,50.5],[48,12.5,13.5,50.5,50.5],[34,17.2,28.2,46,42],[46,15.3,19,48,47],[48,14.5,16.5,50.5,50.5],[47,17.5,20.5,49,49],[49,19.5,21.5,50.5,50.5],[42,23.4,32.9,48,46],[48,22.5,25.5,50.5,50.5],[49,24.5,27.5,50.5,50.5],[46,29.5,35.5,48,48],[48,28.5,30.5,50.5,50.5],[48,31.5,32.5,50.5,50.5],[48,33.5,37.5,49.5,49.5],[49.5,35.5,39.5,50.5,50.5]];

// ---------- Chord diagrams ----------
const BROWN="#B8572A", GREEN="#0AA650", LGREEN="#A3D584", LBLUE="#93D0E8", BLUE="#0D7EBD", PINK="#F28E99", PURPLE="#A94FA0", ORANGE="#FBB267", TEAL="#1A4F6E";
const HP="#F7A1A1", IO="#FDC58F", JB="#A7D0F2", KG="#A6F3A4";

const hSectors = [[90.3,178,BROWN],[186,260,GREEN],[272,297.6,LGREEN],[306,342.7,LBLUE],[351,365.3,BLUE],[13.3,27.7,BLUE],[35.9,43,PINK],[51,82,PURPLE]];
const hSegments = [[90.4,119,HP],[120,178,TEAL],[186,207.6,HP],[208.5,215.8,HP],[216.6,259.6,TEAL],[272,289.5,HP],[290.5,293,TEAL],[305.8,320,HP],[321.5,342.7,TEAL],[351,365,HP],[13.6,27.5,HP],[38,43,HP],[51.8,58,HP],[60,64,HP],[68,82,TEAL]];
const hGenes: any[] = [["LGALS9",103.8],["HAVCR2",150.6],["LGALS9",198.5],["CD70",212.9],["HAVCR2",237.5],["LGALS9",278.8],["HAVCR2",295],["LGALS9",313.5],["HAVCR2",332.7],["LGALS9",358.7],["LGALS9",19.7],["LGALS9",37],["CD70",54.4],["LGALS9",63.7],["CD27",76.7]];
const hLabels: any[] = [["Microglial Cell",325.6,211],["Neoplastic",357.6,210],["Neural Stem Cell",23,223],["Oligodendrocyte",41,209],["T Cell",67,210],["M1 Macrophage",132.8,210],["M2 Macrophage",221,212],["Macrophage",284,210]];
const hLinks = [[286,174.8,4,10],[279,167.5,4,10],[271.5,253,4,10],[309,160.3,2,10],[316,241.7,2,10],[325,249,3,10],[354.7,235,2,10],[1.6,152,2,10],[17,227,2,10],[23.9,144.7,2,10],[39.8,137,2,10],[64,130,2,9],[55,75,3.5,8],[212,80,2,8],[61,219.5,2,10],[93.7,293,13,0],[100.4,339.7,12,0],[107,226,12,8],[114.4,123,10,8],[189,176,9,9],[202.5,232,10,8],[195.5,332,11,0]];

const iSectors = [[90,117.5,BROWN],[126,193,GREEN],[201,215,LGREEN],[222.8,229.6,LBLUE],[237.7,252.4,BLUE],[260.4,267,PINK],[275.2,297.4,ORANGE],[305.7,355.5,PURPLE]];
const iSegments = [[3.6,59,IO],[60,74.3,TEAL],[75,81.6,TEAL],[90,117,IO],[126.5,133.4,IO],[134,148,IO],[149,156,TEAL],[156.5,177.4,TEAL],[178,185,TEAL],[186,193,TEAL],[201,215,IO],[223,230,TEAL],[237.8,244.4,TEAL],[247.2,252,TEAL],[260,267,TEAL],[275,286,TEAL],[286.5,291.5,TEAL],[292.7,297.3,TEAL],[305.8,325.9,IO],[327,334,TEAL],[335,355.3,TEAL]];
const iGenes: any[] = [["IGF2",30],["CD9",67],["CXCR4",78],["HBEGF",103],["HBEGF",130],["TGFB1",141],["IGF2R",153],["CXCR4",167],["IGF1R",181.5],["CD9",189.5],["TGFB1",208],["IGF2R",226.5],["INSR",241],["CD9",249.5],["INSR",264],["IGF1R",280],["INSR",289],["CD82",295],["TGFB1",315],["IGF2R",330],["CXCR4",345]];
const iLabels: any[] = [["unknown",43.6,207],["T Cell",331.3,211],["Oligodendrocyte\nProgenitor Cell",289,221],["M1 Macrophage",102.5,208],["M2 Macrophage",158.3,210],["Macrophage",205,225],["Microglial Cell",225.5,209],["Neoplastic",243.3,226],["Oligodendrocyte",262.4,214]];
const iLinks = [[94,62,2,11],[100,79,2,11],[107.6,249,2,9],[114.5,167.6,2,11],[129.5,70.6,2,11],[137.6,338,2,11],[144.7,345.7,2,11],[308.7,174.7,2,11],[322.6,352.7,2,11],[210.2,294,1.8,9],[204.7,189,2,11],[6.4,331,13,0],[14,285,14,0],[21.3,278,14,0],[28.8,263.5,14,0],[35.7,241,13,0],[42.9,225.7,12,0],[50,181.6,14,0],[56.4,152.8,13,0]];

const jSectors = [[332.2,347,LGREEN],[355.2,402,LBLUE],[50.4,57.7,ORANGE],[66,81.7,PURPLE],[90,215,BROWN],[223.2,324,GREEN]];
const jSegments = [[332,346.9,JB],[355,370,JB],[11,19,JB],[19.6,42,TEAL],[50.7,57.7,TEAL],[66,73,TEAL],[74.5,81.5,TEAL],[90,112,JB],[113,137,JB],[137.6,160,JB],[160.6,169,JB],[169.6,215,TEAL],[223,246.3,JB],[247,262.5,JB],[262.8,315.8,TEAL],[316.7,323.4,TEAL]];
const jGenes: any[] = [["CCL4",337.6],["CCL3",2.5],["CCL4",15],["CCR5",32],["IL1RAP",54.5],["ADRB2",70],["CD48",79],["CCL4",99],["CCL3",123.7],["IL1B",148],["IL18",165.4],["CCR1",192],["CCL4",234.5],["CCL3",253.6],["CCR1",290],["ADRB2",320.6]];
const jLabels: any[] = [["Macrophage",340.7,209],["Microglial Cell",19.8,209],["Oligodendrocyte\nProgenitor Cell",51.7,226],["T Cell",74.3,210],["M1 Macrophage",150.9,211],["M2 Macrophage",275,209]];
const jLinks = [[337,304.4,3,7],[343.6,195.3,3,9],[358.6,312,3,7],[6,188,3,9],[15,296.6,2.5,7],[140.7,320.6,2.5,7],[148.9,54,2.5,9],[156.3,69.5,3,9],[164.7,79,2,15],[93.2,288.7,14,0],[100.5,281.7,12,0],[107.4,181,11,0],[116,173.6,10,0],[31,123.7,11,0],[40,132.3,10,0],[274.3,258,9,0],[266.7,250,8,0],[24,234,12,0],[210,242,12,0],[203,226,8,0]];

const kSectors = [[272.8,323.6,LGREEN],[332,339,BLUE],[347,353.8,BLUE],[2,29.9,ORANGE],[38,53,PURPLE],[90,187.3,BROWN],[195.4,264.8,GREEN]];
const kSegments = [[332,338.5,KG],[347,354,KG],[2,29.7,TEAL],[37.9,45,KG],[45.8,52.9,TEAL],[61,82,KG],[90,97,KG],[98,112.5,KG],[113.5,155,KG],[156,163.6,KG],[164,172,TEAL],[172.8,179,TEAL],[180,187,TEAL],[195.4,210,KG],[211,221,KG],[222,228.5,KG],[229.6,237.6,TEAL],[238,241,TEAL],[242.8,249.2,TEAL],[252.8,264.6,TEAL],[273,301,TEAL],[302,315.6,TEAL],[316,323.5,TEAL]];
const kGenes: any[] = [["APP",336],["B2M",350.4],["LRP1",14],["B2M",41],["ITGA4",49.3],["APP",71.3],["B2M",92.3],["APOE",105],["SPP1",134],["C1QB",158],["ITGB1",166],["ITGAV",175],["CD74",184],["APOE",201.8],["B2M",214.7],["C1QB",223],["ITGAV",229.6],["ITGB1",237.4],["CD74",246],["SORL1",256.8],["CD1A",287.5],["CD74",309],["CD44",321]];
const kLabels: any[] = [["Macrophage",299.2,209],["Neoplastic",331.7,210],["Neural Stem Cell",344,225],["Oligodendrocyte\nProgenitor Cell",28.8,218],["T Cell",45.8,211],["unknown",72.3,209],["M1 Macrophage",137.3,210],["M2 Macrophage",228.7,209]];
const kLinks = [[5,198.5,3.5,0],[12,205,6,0],[26,101,4,0],[19.2,184,3,14],[41,290,2.5,0],[64.4,298,2.5,0],[71.6,246,2,14],[78.5,222.5,2.5,0],[93,283,4,0],[108.4,262,3,0],[276,198.5,3,0],[254.5,214.5,4,0],[335,304,2,14],[350,312,2.5,12],[115.6,320,14,0],[123,49.6,12,0],[130,239,14,0],[137,230,14,0],[131,176,12,0],[138,176,12,0],[145,168,11,0],[153,168,10,0],[160.5,131,4,0]];

function chordSeries(polarIndex: number, sectors: any[], segments: any[], genes: any[], labels: any[], links: any[], r0: number) {
  const makeArc = (rows: any[], radius: number, lineWidth: number) => ({
    type: "custom", coordinateSystem: "polar", polarIndex, silent: true,
    data: rows.map((r, i) => [radius, r[0] % 360, i]),
    renderItem: (_p: any, api: any) => {
      const r = rows[api.value(2)];
      const c = api.coord([0, 0]);
      const e = api.coord([radius, 90]);
      const pr = Math.abs(e[0] - c[0]);
      return { type: "arc", shape: { cx: c[0], cy: c[1], r: pr, startAngle: (r[0] - 90) * Math.PI / 180, endAngle: (r[1] - 90) * Math.PI / 180, clockwise: true }, style: { stroke: r[2], lineWidth, fill: "none" } };
    },
  });
  const linkSeries = {
    type: "custom", coordinateSystem: "polar", polarIndex, silent: true,
    data: links.map((l, i) => [143, l[0] % 360, i]),
    renderItem: (_p: any, api: any) => {
      const l = links[api.value(2)];
      const a1 = l[0], a2 = l[1];
      let d = ((a2 - a1) % 360 + 360) % 360;
      if (d > 180) d -= 360;
      const mid = ((a1 + d / 2) % 360 + 360) % 360;
      const p1 = api.coord([143, a1 % 360]);
      const p2 = api.coord([l[3] ? 141 : 143, a2 % 360]);
      const cp = api.coord([36, mid]);
      const children: any[] = [{ type: "bezierCurve", shape: { x1: p1[0], y1: p1[1], x2: p2[0], y2: p2[1], cpx1: cp[0], cpy1: cp[1] }, style: { stroke: "#000", lineWidth: l[2], fill: "none" } }];
      if (l[3]) {
        let dx = p2[0] - cp[0], dy = p2[1] - cp[1];
        const n = Math.hypot(dx, dy) || 1; dx /= n; dy /= n;
        const len = l[3] * 1.3, hw = l[3] * 0.7;
        const bx = p2[0] - dx * len, by = p2[1] - dy * len;
        children.push({ type: "polygon", shape: { points: [[p2[0], p2[1]], [bx - dy * hw, by + dx * hw], [bx + dy * hw, by - dx * hw]] }, style: { fill: "#000" } });
      }
      return { type: "group", children };
    },
  };
  const geneSeries = {
    type: "custom", coordinateSystem: "polar", polarIndex, silent: true,
    data: genes.map((g, i) => [r0, g[1] % 360, i]),
    renderItem: (_p: any, api: any) => {
      const g = genes[api.value(2)];
      const a = g[1] % 360;
      const p = api.coord([r0, a]);
      const right = a < 180;
      const rot = right ? 90 - a : 270 - a;
      return { type: "text", x: p[0], y: p[1], rotation: rot * Math.PI / 180, style: { text: g[0], fontSize: 14.5, fontFamily: FONT, fill: "#000", align: right ? "left" : "right", verticalAlign: "middle" } };
    },
  };
  const labelSeries = {
    type: "custom", coordinateSystem: "polar", polarIndex, silent: true,
    data: labels.map((g, i) => [g[2], g[1] % 360, i]),
    renderItem: (_p: any, api: any) => {
      const g = labels[api.value(2)];
      const a = g[1] % 360;
      const p = api.coord([g[2], a]);
      const rot = a > 90 && a < 270 ? 180 - a : -a;
      return { type: "text", x: p[0], y: p[1], rotation: rot * Math.PI / 180, style: { text: g[0], fontSize: 15, fontFamily: FONT, fill: "#000", align: "center", verticalAlign: "middle" } };
    },
  };
  return [makeArc(sectors, 199, 6), makeArc(segments, 149, 1.5), linkSeries, geneSeries, labelSeries];
}

function patchSeries(gridIndex: number, patches: any[], grow: number) {
  return {
    type: "custom", xAxisIndex: gridIndex, yAxisIndex: gridIndex, silent: true,
    data: patches.map((_p, i) => [i, i]),
    renderItem: (params: any, api: any) => {
      const row = patches[params.dataIndex];
      const white = row[1] === "#fff";
      return { type: "polygon", shape: { points: row[0].map((q: number[]) => { const c = api.coord(q); return [c[0], c[1]]; }), smooth: 0.12 }, style: { fill: row[1], stroke: white ? "none" : row[1], lineWidth: white ? 0 : grow, lineJoin: "round" } };
    },
  };
}
function dots(gridIndex: number, data: any[], color: string, size: number) {
  return { type: "scatter", xAxisIndex: gridIndex, yAxisIndex: gridIndex, data, symbolSize: size, silent: true, itemStyle: { color, opacity: 1 }, z: 3 };
}
const fmtTick = (v: number) => (v < 0 ? "\u2212" + Math.abs(v) : String(v));
function umapAxes(left: number, right: number, top: number, bottom: number, xr: number[], yr: number[], size: number, yTicks: number[]) {
  const xTicks = [-10, 0, 10];
  const grid = { left, top, width: right - left, height: bottom - top };
  const common = { type: "value", splitLine: { show: false } };
  const line = { show: true, onZero: false, lineStyle: { color: "#000", width: 2.6 } };
  return {
    grid,
    x: { ...common, min: xr[0], max: xr[1], axisLine: line, axisTick: { show: true, length: 4, customValues: xTicks, lineStyle: { color: "#000", width: 2 } }, axisLabel: { customValues: xTicks, formatter: fmtTick, fontSize: size, color: "#000", fontFamily: FONT, margin: 7 } },
    y: { ...common, min: yr[0], max: yr[1], axisLine: line, axisTick: { show: true, length: 4, customValues: yTicks, lineStyle: { color: "#000", width: 2 } }, axisLabel: { customValues: yTicks, formatter: fmtTick, fontSize: size, color: "#000", fontFamily: FONT, margin: 5 } },
  };
}

function txt(text: string, x: number, y: number, size: number, o: any = {}) {
  return { type: "text", x, y, rotation: (o.rot || 0) * Math.PI / 180, silent: true, z: 20,
    style: { text, fontSize: size, fontFamily: FONT, fontWeight: o.bold ? "bold" : "normal", fill: o.color || "#000", align: o.align || "center", verticalAlign: "middle", textAlign: o.align || "center", textVerticalAlign: "middle" } };
}

export default function App() {
  const ref = useRef<HTMLDivElement>(null);
  useEffect(() => {
    document.body.style.margin = "0";
    const chart = echarts.init(ref.current!, undefined, { renderer: "svg" });

    const A = umapAxes(68, 388, 59.3, 398.3, [-16.5, 17], [-17.6, 16.2], 18, [-10, 0, 10]);
    const B = umapAxes(551.6, 765, 52.7, 392.7, [-16.65, 16.96], [-17.8, 16.2], 18, [-10, 0, 10]);
    const C = umapAxes(1136.7, 1448.6, 28.3, 386.7, [-17.47, 17.78], [-18.6, 16.7], 19, [-10, 0, 10]);
    const D = umapAxes(65.7, 346.3, 511.7, 870, [-16.6, 16.9], [-17.6, 16.2], 19, [-10, 0, 10]);

    const grids: any[] = [A.grid, B.grid, C.grid, D.grid,
      { left: 583.1, top: 559.3, width: 155.6, height: 336.7 },
      { left: 67.6, top: 953, width: 718.2, height: 279.7 },
      { left: 50.5, top: 1370.7, width: 256, height: 841 },
      { left: 0, top: 1370.7, width: 50.5, height: 841 },
    ];
    const xAxes: any[] = [A.x, B.x, C.x, D.x,
      { type: "category", data: eGroups, position: "top", axisLine: { show: false, onZero: false }, axisTick: { show: false }, axisLabel: { fontSize: 25, color: "#4D4D4D", fontFamily: FONT, margin: 15 }, splitLine: { show: false } },
      { type: "value", min: 0.412, max: 13.646, splitLine: { show: false }, axisLine: { show: true, onZero: false, lineStyle: { color: "#000", width: 3 } },
        axisTick: { show: true, length: 5, customValues: fCategories.map((_, i) => i + 1), lineStyle: { color: "#000", width: 2 } },
        axisLabel: { customValues: fCategories.map((_, i) => i + 1), formatter: (v: number) => fCategories[v - 1] || "", rotate: 45, verticalAlign: "middle", fontSize: 19, lineHeight: 22, color: "#000", fontFamily: FONT, margin: 11 } },
      { type: "category", data: gColumns, show: false },
      { type: "value", min: 0, max: 50.5, show: false },
    ].map((a, i) => ({ ...a, gridIndex: i }));
    const yAxes: any[] = [A.y, B.y, C.y, D.y,
      { type: "value", inverse: true, min: -0.0511, max: 1.0467, offset: 7, splitLine: { show: false }, axisLine: { show: false }, axisTick: { show: false }, axisLabel: { customValues: eTicks, formatter: (v: number) => v.toFixed(2), fontSize: 26, color: "#4D4D4D", fontFamily: FONT, margin: 21 } },
      { type: "value", min: -0.177, max: 3.51, splitLine: { show: false }, axisLine: { show: true, onZero: false, lineStyle: { color: "#000", width: 3 } }, axisTick: { show: true, length: 4, customValues: [0, 1, 2, 3], lineStyle: { color: "#000", width: 2 } }, axisLabel: { customValues: [0, 1, 2, 3], fontSize: 19, color: "#000", fontFamily: FONT, margin: 6 } },
      { type: "category", data: gPathways, inverse: true, position: "right", axisLine: { show: false }, axisTick: { show: false }, axisLabel: { interval: 0, fontSize: 14.6, color: "#000", fontFamily: FONT, margin: 3 } },
      { type: "value", min: 0, max: 40, inverse: true, show: false },
    ].map((a, i) => ({ ...a, gridIndex: i }));

    const violins: any[] = [[11, neuronViolin, "#1F4E34"], [12, oligoViolin, "#B8935C"], [13, opcViolin, "#8C4A9E"]];
    const fVals = (cat: number, rows: number[][]) => rows.map(r => [cat + r[0], r[1]]);
    const gridRows = [...eTicks.map(v => [v, 1.3]), ...eMinor.map(v => [v, 0.6])];
    const densities: any[] = [[11, neuronDensity, "rgba(0,0,0,0.82)"], [12, oligoDensity, "rgba(0,0,0,0.38)"]];

    const series: any[] = [
      patchSeries(0, aPatches, 4), dots(0, aCyanSpecks, CYAN, 6), dots(0, aSalmonSpecks, SALMON, 4),
      patchSeries(1, bPatches, 3), dots(1, bRedSpecks, cellColors.NSC, 4), dots(1, bGoldSpecks, cellColors.Astrocyte, 3), dots(1, bBlueSpecks, cellColors.AstroOligo, 3), dots(1, bDarkSpecks, cellColors.Neoplastic, 3), dots(1, bTanSpecks, cellColors.M1, 4),
      patchSeries(2, cPatches, 4), dots(2, cSalmonSpecks, "#E8806A", 3.5),
      { type: "scatter", xAxisIndex: 2, yAxisIndex: 2, silent: true, symbolSize: 0, z: 5, itemStyle: { opacity: 1 }, data: cLabels.map(l => ({ name: l[0], value: [l[1], l[2]] })),
        label: { show: true, position: "inside", formatter: "{b}", fontSize: 15, color: "#000", opacity: 1, textBorderWidth: 0, fontFamily: FONT }, labelLayout: { hideOverlap: false } },
      patchSeries(3, dPatches, 4), dots(3, dSalmonSpecks, SALMON, 4),
      // panel E background lines
      { type: "custom", xAxisIndex: 4, yAxisIndex: 4, silent: true, z: 1, data: gridRows.map((r, i) => [0, r[0], i]),
        renderItem: (params: any, api: any) => {
          const r = gridRows[params.dataIndex];
          const y = api.coord([0, r[0]])[1];
          const cs = params.coordSys;
          return { type: "line", shape: { x1: cs.x - 7, y1: y, x2: cs.x + cs.width + 7, y2: y }, style: { stroke: "#EBEBEB", lineWidth: r[1] } };
        } },
      { type: "custom", xAxisIndex: 4, yAxisIndex: 4, silent: true, z: 6, data: eTicks.map((v, i) => [0, v, i]),
        renderItem: (params: any, api: any) => {
          const y = api.coord([0, eTicks[params.dataIndex]])[1];
          const cs = params.coordSys;
          return { type: "line", shape: { x1: cs.x - 15, y1: y, x2: cs.x - 7, y2: y }, style: { stroke: "#333", lineWidth: 2 } };
        } },
      { type: "custom", xAxisIndex: 4, yAxisIndex: 4, silent: true, z: 6, data: eGroups.map((v, i) => [i, 0]),
        renderItem: (params: any, api: any) => {
          const x = api.coord([params.dataIndex, 0])[0];
          const cs = params.coordSys;
          return { type: "line", shape: { x1: x, y1: cs.y - 8, x2: x, y2: cs.y }, style: { stroke: "#333", lineWidth: 2 } };
        } },
      { type: "bar", xAxisIndex: 4, yAxisIndex: 4, stack: "e", barWidth: 70, data: eOPC, itemStyle: { color: "#C77CFF" }, silent: true, z: 3 },
      { type: "bar", xAxisIndex: 4, yAxisIndex: 4, stack: "e", barWidth: 70, data: eNPC, itemStyle: { color: "#00BFC4" }, silent: true, z: 3 },
      { type: "bar", xAxisIndex: 4, yAxisIndex: 4, stack: "e", barWidth: 70, data: eMES, itemStyle: { color: "#7CAE00" }, silent: true, z: 3 },
      { type: "bar", xAxisIndex: 4, yAxisIndex: 4, stack: "e", barWidth: 70, data: eAC, itemStyle: { color: "#F8766D" }, silent: true, z: 3 },
      // panel F
      { type: "custom", xAxisIndex: 5, yAxisIndex: 5, silent: true, data: violins.map((_v, i) => [i, i]),
        renderItem: (params: any, api: any) => {
          const v = violins[params.dataIndex];
          const rows: number[][] = v[1];
          const pts = [...rows.map(r => [v[0] - r[1], r[0]]), ...rows.slice().reverse().map(r => [v[0] + r[1], r[0]])].map(q => { const c = api.coord(q); return [c[0], c[1]]; });
          return { type: "polygon", shape: { points: pts }, style: { fill: v[2], stroke: "#333", lineWidth: 2 } };
        } },
      { type: "custom", xAxisIndex: 5, yAxisIndex: 5, silent: true, data: densities.map((_d, i) => [i, i]),
        renderItem: (params: any, api: any) => {
          const d = densities[params.dataIndex];
          return { type: "polygon", shape: { points: d[1].map((q: number[]) => { const c = api.coord([d[0] + q[0], q[1]]); return [c[0], c[1]]; }), smooth: 0.3 }, style: { fill: d[2] } };
        } },
      { type: "custom", xAxisIndex: 5, yAxisIndex: 5, silent: true, data: fMax.map((m, i) => [i + 1, m]),
        renderItem: (_p: any, api: any) => {
          const x = api.value(0), m = api.value(1);
          const a = api.coord([x - 0.46, 0]), b = api.coord([x + 0.46, 0]), t = api.coord([x, m]);
          return { type: "group", children: [
            { type: "line", shape: { x1: a[0], y1: a[1], x2: b[0], y2: b[1] }, style: { stroke: "#000", lineWidth: 3.5 } },
            { type: "line", shape: { x1: t[0], y1: a[1], x2: t[0], y2: t[1] }, style: { stroke: "#333", lineWidth: 2 } },
          ] };
        } },
      dots(5, smallPoints.map(p => [p[0] + p[1], p[2]]), "#000", 3.6),
      dots(5, fVals(9, neoplasticPts), "#000", 3.6),
      dots(5, fVals(10, astrocytePts), "#000", 3.6),
      dots(5, fVals(11, neuronPts), "#000", 3.6),
      dots(5, fVals(12, oligoPts), "#000", 3.6),
      dots(5, fVals(13, opcPts), "#000", 3.6),
      // panel G
      { type: "heatmap", xAxisIndex: 6, yAxisIndex: 6, silent: true, progressive: 0,
        data: [...gHigh.map((v, i) => [0, i, v]), ...gLow.map((v, i) => [1, i, v])] },
      { type: "custom", xAxisIndex: 7, yAxisIndex: 7, silent: true, data: gDendro.map((d, i) => [d[0], d[1], i]),
        renderItem: (params: any, api: any) => {
          const d = gDendro[params.dataIndex];
          const pts = [[d[3], d[1]], [d[0], d[1]], [d[0], d[2]], [d[4], d[2]]].map(q => { const c = api.coord(q); return [c[0], c[1]]; });
          return { type: "polyline", shape: { points: pts }, style: { stroke: "#000", lineWidth: 1.7, fill: "none" } };
        } },
      ...chordSeries(0, hSectors, hSegments, hGenes, hLabels, hLinks, 141),
      ...chordSeries(1, iSectors, iSegments, iGenes, iLabels, iLinks, 152),
      ...chordSeries(2, jSectors, jSegments, jGenes, jLabels, jLinks, 152),
      ...chordSeries(3, kSectors, kSegments, kGenes, kLabels, kLinks, 152),
    ];
    const heatIndex = series.findIndex(s => s.type === "heatmap");

    const centers = [[1266, 692.3], [1267, 1128], [1265.7, 1573.7], [1265.7, 2011.7]];

    const g: any[] = [];
    // panel letters
    ([["A",10,15],["B",495,15],["C",1067,14],["D",10,476],["E",494,476],["F",8,924],["G",10,1375],["H",1060,475],["I",1065,923],["J",1061,1373],["K",1060,1825]] as any[]).forEach(l => g.push(txt(l[0], l[1], l[2], 24, { bold: true })));
    // titles and axis names
    g.push(txt("copykat.pred", 250.6, 35, 26, { bold: true }), txt("celltype", 666, 29, 26, { bold: true }), txt("SOX10", 1291.3, 19, 26, { bold: true }), txt("group", 205, 487, 26, { bold: true }));
    g.push(txt("UMAP_1", 240, 443, 22), txt("UMAP_1", 665, 436, 22), txt("UMAP_1", 1291, 433, 23.5), txt("UMAP_1", 204, 914, 24));
    g.push(txt("UMAP_2", 23, 243, 16, { rot: 90 }), txt("UMAP_2", 501, 231, 18, { rot: 90 }), txt("UMAP_2", 1094, 207, 24, { rot: 90 }), txt("UMAP_2", 14, 691, 24, { rot: 90 }));
    // legend A
    ([["aneuploid", SALMON, 223], ["diploid", CYAN, 248]] as any[]).forEach(l => { g.push({ type: "circle", shape: { cx: 381.5, cy: l[2], r: 6 }, style: { fill: l[1] }, silent: true }); g.push(txt(l[0], 398.4, l[2], 20, { align: "left" })); });
    // legend B
    bLegendNames.forEach((n, i) => { const y = 79.3 + i * 25.06; g.push({ type: "circle", shape: { cx: 792.7, cy: y, r: 6 }, style: { fill: bLegendColors[i] }, silent: true }); g.push(txt(n, 812.8, y, 19.5, { align: "left" })); });
    // colour bar C
    g.push({ type: "rect", shape: { x: 1435.5, y: 11, width: 26.2, height: 132 }, silent: true, style: { fill: new echarts.graphic.LinearGradient(0, 0, 0, 1, [{ offset: 0, color: "#FF1A0A" }, { offset: 0.5, color: "#F0795F" }, { offset: 1, color: "#C8C8C8" }]) } });
    ([[3, 25], [2, 65], [1, 105], [0, 144]] as any[]).forEach(l => { g.push(txt(String(l[0]), 1469, l[1], 19, { align: "left" })); g.push({ type: "line", shape: { x1: 1435.5, y1: l[1], x2: 1440.5, y2: l[1] }, style: { stroke: "#fff", lineWidth: 1 }, silent: true }, { type: "line", shape: { x1: 1456.7, y1: l[1], x2: 1461.7, y2: l[1] }, style: { stroke: "#fff", lineWidth: 1 }, silent: true }); });
    // legend D
    ([["High", SALMON, 684], ["Low", CYAN, 711]] as any[]).forEach(l => { g.push({ type: "circle", shape: { cx: 367, cy: l[2], r: 8 }, style: { fill: l[1] }, silent: true }); g.push(txt(l[0], 393.5, l[2], 20.5, { align: "left" })); });
    // panel E decorations
    g.push({ type: "rect", shape: { x: 575.9, y: 559.3, width: 169, height: 336.7 }, style: { fill: "none", stroke: "#333", lineWidth: 1.6 }, silent: true, z: 15 });
    g.push(txt("SOX10_group", 685.6, 503, 32), txt("proportion", 479, 718, 31, { rot: 90 }), txt("Subtype", 822, 597, 31.5));
    ([["AC", "#F8766D", 628], ["MES", "#7CAE00", 679], ["NPC", "#00BFC4", 730], ["OPC", "#C77CFF", 781]] as any[]).forEach(l => { g.push({ type: "rect", shape: { x: 765, y: l[2], width: 46, height: 46.5 }, style: { fill: l[1] }, silent: true }); g.push(txt(l[0], 830, l[2] + 23, 25, { align: "left" })); });
    // relative expression legend
    g.push(txt("Relative expression level", 921, 859, 13), txt("Ligand", 896, 888, 13), txt("Receptor", 898, 926, 13), txt("High", 1016, 881, 13, { align: "left" }), txt("Low", 1016, 897, 13, { align: "left" }), txt("High", 1016, 923, 13, { align: "left" }), txt("Low", 1016, 938, 13, { align: "left" }));
    g.push({ type: "line", shape: { x1: 955, y1: 882, x2: 988, y2: 882 }, style: { stroke: "#000", lineWidth: 4.5 }, silent: true }, { type: "line", shape: { x1: 955, y1: 897, x2: 988, y2: 897 }, style: { stroke: "#555", lineWidth: 1 }, silent: true });
    g.push({ type: "polygon", shape: { points: [[966, 919], [978, 926], [966, 933]] }, style: { fill: "#000" }, silent: true }, { type: "polygon", shape: { points: [[966, 939], [976, 941], [966, 943]] }, style: { fill: "#000" }, silent: true });
    // panel F labels + legend
    g.push(txt("SOX10", 424.6, 947.7, 18, { bold: true }), txt("Expression Level", 27, 1073, 21, { rot: 90 }));
    g.push({ type: "rect", shape: { x: 800, y: 978, width: 19, height: 239 }, style: { fill: "#555" }, silent: true });
    fLegendNames.forEach((n, i) => { const y = 988.3 + i * 18.25; g.push({ type: "rect", shape: { x: 801.5, y: y - 8, width: 16, height: 16 }, style: { fill: fLegendColors[i] }, silent: true }); g.push(txt(n, 826, y, 14, { align: "left" })); });
    // panel G labels
    g.push(txt("High", 117, 2227, 20), txt("Low", 255, 2227, 19.5));
    gScaleTicks.forEach(v => g.push(txt(fmtTick(v), 858, 1491 - v * 32.7, 14.5, { align: "left" })));

    chart.setOption({
      animation: false,
      grid: grids, xAxis: xAxes, yAxis: yAxes,
      polar: centers.map(c => ({ center: c, radius: 215 })),
      angleAxis: centers.map((_, i) => ({ polarIndex: i, type: "value", min: 0, max: 360, startAngle: 90, clockwise: true, show: false })),
      radiusAxis: centers.map((_, i) => ({ polarIndex: i, type: "value", min: 0, max: 215, show: false })),
      visualMap: [{ type: "continuous", seriesIndex: heatIndex, min: -3.9, max: 3.62, left: 835, top: 1372.7, itemWidth: 15.6, itemHeight: 246, padding: 0, text: ["", ""], showLabel: false, calculable: false, hoverLink: false, inRange: { color: ["#4575B4", "#74ADD1", "#ABD9E9", "#E0F3F8", "#FFFFBF", "#FEE090", "#FDAE61", "#F46D43", "#D73027"] } }],
      series,
      graphic: { elements: g },
    });
    return () => chart.dispose();
  }, []);
  return <div ref={ref} style={{ position: "absolute", left: 0, top: 0, width: 1492, height: 2239, background: "#fff" }} />;
}
